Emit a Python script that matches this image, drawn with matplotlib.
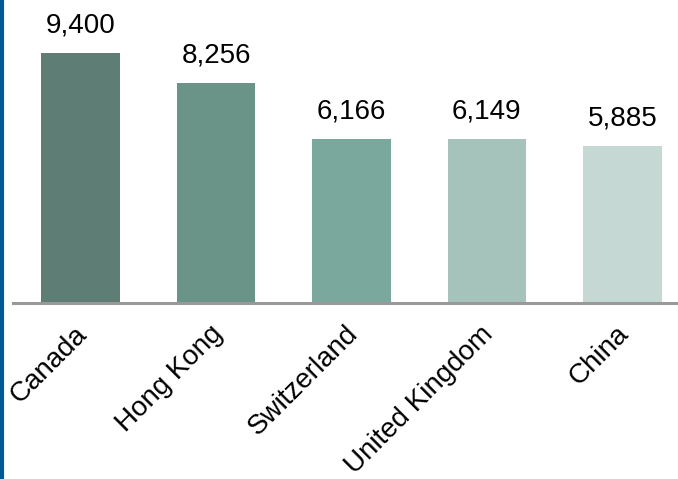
import matplotlib
matplotlib.use("Agg")
from matplotlib import pyplot as plt
from matplotlib.lines import Line2D
from matplotlib.transforms import ScaledTranslation

# data
countries = ["Canada", "Hong Kong", "Switzerland", "United Kingdom", "China"]
values = [9400, 8256, 6166, 6149, 5885]
colors = ["#5e7d74", "#6b9489", "#7ba89c", "#a6c3bb", "#c6d8d3"]

plt.rcParams['font.family'] = ['Liberation Sans', 'DejaVu Sans']

W, H = 678, 479
fig = plt.figure(figsize=(W / 100, H / 100), dpi=100)

# axes runs a bit past the right edge, like the original crop
left, right = 13 / W, 690 / W
bottom, top = (H - 303) / H, 1.0
ax = fig.add_axes([left, bottom, right - left, top - bottom])

x = range(len(countries))
bars = ax.bar(x, values, width=0.58, color=colors)

ax.set_xlim(-0.5, 4.5)
ax.set_ylim(0, 303 / (250 / 9400))

for b, v in zip(bars, values):
    ax.annotate(f"{v:,}", (b.get_x() + b.get_width() / 2, v),
                xytext=(0, 10.5), textcoords="offset points",
                ha="center", va="bottom", fontsize=20)

ax.set_xticks(list(x))
ax.set_xticklabels(countries, rotation=45, ha="right", rotation_mode="anchor",
                   fontsize=20)
ax.tick_params(axis="x", length=0, pad=13)
shift = ScaledTranslation(-7 / 100, 0, fig.dpi_scale_trans)
for lab in ax.get_xticklabels():
    lab.set_transform(lab.get_transform() + shift)
ax.set_yticks([])

for s in ["top", "right", "left"]:
    ax.spines[s].set_visible(False)
ax.spines["bottom"].set_color("#999999")
ax.spines["bottom"].set_linewidth(2.2)

# blue strip on the left edge
fig.add_artist(Line2D([1.5 / W, 1.5 / W], [0, 1], transform=fig.transFigure,
                      color="#005a96", linewidth=3))

fig.savefig("out.png", dpi=100)
